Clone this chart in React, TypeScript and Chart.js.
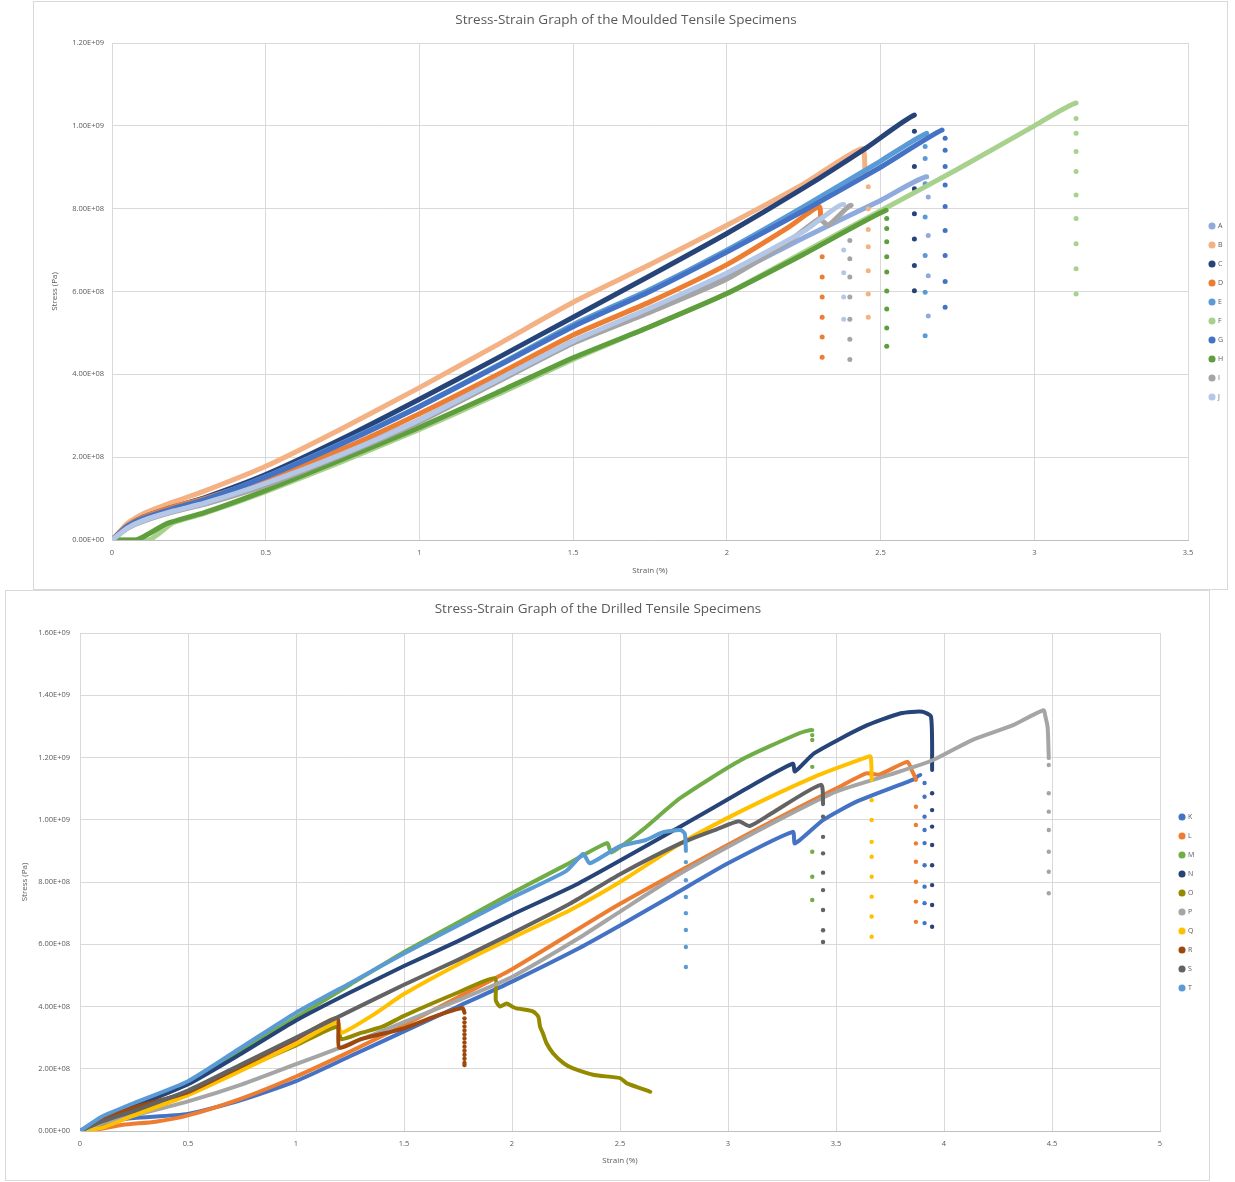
import React, { useEffect, useRef } from 'react';
import { Chart, registerables } from 'chart.js';

Chart.register(...registerables);

type Pt = [number, number];

// ---------------- Moulded specimens (top chart) ----------------
const mouldedTitle = 'Stress-Strain Graph of the Moulded Tensile Specimens';
const mouldedNames = ['A', 'B', 'C', 'D', 'E', 'F', 'G', 'H', 'I', 'J'];
const mouldedColors = ['#8FAADC', '#F4B183', '#264478', '#ED7D31', '#5B9BD5', '#A9D18E', '#4472C4', '#5E9E3C', '#A5A5A5', '#B4C7E7'];
const mouldedXTicks = [0, 0.5, 1, 1.5, 2, 2.5, 3, 3.5];
const mouldedYTicks = [0, 2e8, 4e8, 6e8, 8e8, 1e9, 1.2e9];

const curveA: Pt[] = [[0, 0], [0.05, 0.3e8], [0.1, 0.5e8], [0.2, 0.72e8], [0.3, 0.92e8], [0.5, 1.42e8], [0.75, 2.1e8], [1.0, 2.9e8], [1.25, 3.85e8], [1.5, 4.8e8], [1.75, 5.55e8], [2.0, 6.35e8], [2.25, 7.3e8], [2.5, 8.2e8], [2.65, 8.77e8]];
const dropA: Pt[] = [[2.655, 8.28e8], [2.655, 7.35e8], [2.655, 6.38e8], [2.655, 5.41e8]];
const curveB: Pt[] = [[0, 0], [0.05, 0.4e8], [0.1, 0.63e8], [0.2, 0.92e8], [0.3, 1.18e8], [0.5, 1.78e8], [0.75, 2.7e8], [1.0, 3.68e8], [1.25, 4.7e8], [1.5, 5.74e8], [1.75, 6.65e8], [2.0, 7.6e8], [2.25, 8.6e8], [2.44, 9.45e8], [2.45, 8.8e8]];
const dropB: Pt[] = [[2.46, 8.53e8], [2.46, 8.0e8], [2.46, 7.5e8], [2.46, 7.08e8], [2.46, 6.5e8], [2.46, 5.94e8], [2.46, 5.38e8]];
const curveC: Pt[] = [[0, 0], [0.05, 0.34e8], [0.1, 0.55e8], [0.2, 0.8e8], [0.3, 1.02e8], [0.5, 1.58e8], [0.75, 2.45e8], [1.0, 3.4e8], [1.25, 4.38e8], [1.5, 5.38e8], [1.75, 6.38e8], [2.0, 7.4e8], [2.25, 8.5e8], [2.45, 9.45e8], [2.61, 10.26e8]];
const dropC: Pt[] = [[2.61, 9.87e8], [2.61, 9.02e8], [2.61, 8.48e8], [2.61, 7.88e8], [2.61, 7.27e8], [2.61, 6.63e8], [2.61, 6.02e8]];
const curveD: Pt[] = [[0, 0], [0.05, 0.35e8], [0.1, 0.55e8], [0.2, 0.8e8], [0.3, 1.0e8], [0.5, 1.48e8], [0.75, 2.2e8], [1.0, 3.05e8], [1.25, 3.98e8], [1.5, 4.95e8], [1.75, 5.75e8], [2.0, 6.65e8], [2.2, 7.55e8], [2.3, 8.05e8], [2.305, 7.72e8]];
const dropD: Pt[] = [[2.31, 6.84e8], [2.31, 6.35e8], [2.31, 5.87e8], [2.31, 5.38e8], [2.31, 4.9e8], [2.31, 4.41e8]];
const curveE: Pt[] = [[0, 0], [0.05, 0.33e8], [0.1, 0.52e8], [0.2, 0.76e8], [0.3, 0.97e8], [0.5, 1.53e8], [0.75, 2.35e8], [1.0, 3.23e8], [1.25, 4.2e8], [1.5, 5.2e8], [1.75, 6.05e8], [2.0, 7.0e8], [2.25, 8.05e8], [2.5, 9.15e8], [2.65, 9.82e8]];
const dropE: Pt[] = [[2.645, 9.5e8], [2.645, 9.21e8], [2.645, 8.6e8], [2.645, 7.8e8], [2.645, 6.87e8], [2.645, 5.98e8], [2.645, 4.93e8]];
const curveF: Pt[] = [[0, 0], [0.12, 0], [0.2, 0.42e8], [0.3, 0.64e8], [0.5, 1.17e8], [0.75, 1.9e8], [1.0, 2.67e8], [1.25, 3.5e8], [1.5, 4.36e8], [1.75, 5.15e8], [2.0, 5.95e8], [2.25, 6.95e8], [2.5, 7.95e8], [2.75, 8.95e8], [3.0, 10.0e8], [3.136, 10.55e8]];
const dropF: Pt[] = [[3.136, 10.18e8], [3.136, 9.82e8], [3.136, 9.38e8], [3.136, 8.9e8], [3.136, 8.33e8], [3.136, 7.76e8], [3.136, 7.15e8], [3.136, 6.55e8], [3.136, 5.94e8]];
const curveG: Pt[] = [[0, 0], [0.05, 0.33e8], [0.1, 0.52e8], [0.2, 0.76e8], [0.3, 0.97e8], [0.5, 1.52e8], [0.75, 2.33e8], [1.0, 3.22e8], [1.25, 4.18e8], [1.5, 5.15e8], [1.75, 6.0e8], [2.0, 6.95e8], [2.25, 7.95e8], [2.5, 9.0e8], [2.7, 9.9e8]];
const dropG: Pt[] = [[2.71, 9.7e8], [2.71, 9.41e8], [2.71, 9.02e8], [2.71, 8.57e8], [2.71, 8.05e8], [2.71, 7.47e8], [2.71, 6.87e8], [2.71, 6.24e8], [2.71, 5.62e8]];
const curveH: Pt[] = [[0, 0], [0.08, 0], [0.18, 0.4e8], [0.3, 0.66e8], [0.5, 1.2e8], [0.75, 1.95e8], [1.0, 2.72e8], [1.25, 3.55e8], [1.5, 4.4e8], [1.75, 5.15e8], [2.0, 5.95e8], [2.25, 6.9e8], [2.518, 7.96e8]];
const dropH: Pt[] = [[2.52, 7.76e8], [2.52, 7.52e8], [2.52, 7.2e8], [2.52, 6.84e8], [2.52, 6.47e8], [2.52, 6.01e8], [2.52, 5.58e8], [2.52, 5.12e8], [2.52, 4.68e8]];
const curveI: Pt[] = [[0, 0], [0.05, 0.28e8], [0.1, 0.45e8], [0.2, 0.68e8], [0.3, 0.86e8], [0.5, 1.32e8], [0.75, 2.05e8], [1.0, 2.85e8], [1.25, 3.8e8], [1.5, 4.75e8], [1.75, 5.5e8], [2.0, 6.3e8], [2.2, 7.2e8], [2.3, 7.75e8], [2.33, 7.6e8], [2.404, 8.08e8]];
const dropI: Pt[] = [[2.4, 7.23e8], [2.4, 6.79e8], [2.4, 6.35e8], [2.4, 5.87e8], [2.4, 5.33e8], [2.4, 4.85e8], [2.4, 4.36e8]];
const curveJ: Pt[] = [[0, 0], [0.05, 0.29e8], [0.1, 0.47e8], [0.2, 0.7e8], [0.3, 0.89e8], [0.5, 1.37e8], [0.75, 2.08e8], [1.0, 2.9e8], [1.25, 3.85e8], [1.5, 4.8e8], [1.75, 5.6e8], [2.0, 6.45e8], [2.25, 7.45e8], [2.38, 8.1e8]];
const dropJ: Pt[] = [[2.38, 7.0e8], [2.38, 6.45e8], [2.38, 5.87e8], [2.38, 5.33e8]];

const mouldedCurves = [curveA, curveB, curveC, curveD, curveE, curveF, curveG, curveH, curveI, curveJ];
const mouldedDrops = [dropA, dropB, dropC, dropD, dropE, dropF, dropG, dropH, dropI, dropJ];

// ---------------- Drilled specimens (bottom chart) ----------------
const drilledTitle = 'Stress-Strain Graph of the Drilled Tensile Specimens';
const drilledNames = ['K', 'L', 'M', 'N', 'O', 'P', 'Q', 'R', 'S', 'T'];
const drilledColors = ['#4472C4', '#ED7D31', '#70AD47', '#264478', '#948A00', '#A5A5A5', '#FFC000', '#9E480E', '#636363', '#5B9BD5'];
const drilledXTicks = [0, 0.5, 1, 1.5, 2, 2.5, 3, 3.5, 4, 4.5, 5];
const drilledYTicks = [0, 2e8, 4e8, 6e8, 8e8, 1e9, 1.2e9, 1.4e9, 1.6e9];

const curveK: Pt[] = [[0, 0], [0.1, 0.28e8], [0.25, 0.42e8], [0.5, 0.55e8], [0.75, 1.0e8], [1.0, 1.6e8], [1.25, 2.4e8], [1.5, 3.2e8], [1.75, 4.0e8], [2.0, 4.8e8], [2.31, 5.87e8], [2.5, 6.6e8], [2.75, 7.6e8], [3.0, 8.6e8], [3.3, 9.61e8], [3.31, 9.24e8], [3.44, 9.99e8], [3.6, 10.6e8], [3.86, 11.3e8], [3.89, 11.44e8]];
const dropK: Pt[] = [[3.91, 11.18e8], [3.91, 10.74e8], [3.91, 10.1e8], [3.91, 9.67e8], [3.91, 9.25e8], [3.91, 8.54e8], [3.91, 7.85e8], [3.91, 7.32e8], [3.91, 6.68e8]];
const curveL: Pt[] = [[0, 0], [0.08, 0.05e8], [0.2, 0.2e8], [0.35, 0.3e8], [0.5, 0.5e8], [0.75, 1.05e8], [1.0, 1.75e8], [1.25, 2.55e8], [1.5, 3.4e8], [1.75, 4.3e8], [2.0, 5.2e8], [2.5, 7.3e8], [3.0, 9.2e8], [3.3, 10.3e8], [3.5, 11.0e8], [3.64, 11.49e8], [3.7, 11.45e8], [3.83, 11.86e8], [3.85, 11.6e8], [3.87, 11.28e8]];
const dropL: Pt[] = [[3.87, 10.42e8], [3.87, 9.83e8], [3.87, 9.24e8], [3.87, 8.65e8], [3.87, 8.01e8], [3.87, 7.37e8], [3.87, 6.72e8]];
const curveM: Pt[] = [[0, 0], [0.1, 0.4e8], [0.25, 0.8e8], [0.5, 1.55e8], [0.75, 2.6e8], [1.0, 3.65e8], [1.25, 4.7e8], [1.5, 5.75e8], [1.75, 6.7e8], [2.0, 7.65e8], [2.25, 8.55e8], [2.44, 9.25e8], [2.46, 8.95e8], [2.6, 9.65e8], [2.78, 10.7e8], [3.06, 11.92e8], [3.33, 12.78e8], [3.39, 12.88e8]];
const dropM: Pt[] = [[3.39, 12.72e8], [3.39, 12.56e8], [3.39, 11.7e8], [3.39, 8.97e8], [3.39, 8.17e8], [3.39, 7.42e8]];
const curveN: Pt[] = [[0, 0], [0.1, 0.38e8], [0.25, 0.78e8], [0.5, 1.5e8], [0.75, 2.5e8], [1.0, 3.55e8], [1.25, 4.45e8], [1.5, 5.3e8], [1.75, 6.1e8], [2.0, 6.95e8], [2.31, 7.96e8], [2.78, 9.78e8], [3.06, 10.9e8], [3.3, 11.8e8], [3.31, 11.55e8], [3.4, 12.14e8], [3.63, 12.99e8], [3.8, 13.42e8], [3.9, 13.47e8], [3.94, 13.31e8], [3.945, 11.6e8]];
const dropN: Pt[] = [[3.945, 10.85e8], [3.945, 10.31e8], [3.945, 9.78e8], [3.945, 9.19e8], [3.945, 8.54e8], [3.945, 7.9e8], [3.945, 7.26e8], [3.945, 6.56e8]];
const curveO: Pt[] = [[0, 0], [0.1, 0.2e8], [0.25, 0.55e8], [0.5, 1.25e8], [0.75, 2.0e8], [1.0, 2.75e8], [1.19, 3.35e8], [1.21, 2.95e8], [1.3, 3.15e8], [1.4, 3.35e8], [1.5, 3.7e8], [1.75, 4.45e8], [1.92, 4.91e8], [1.925, 4.2e8], [1.944, 4.0e8], [1.975, 4.1e8], [2.0, 4.0e8], [2.02, 3.94e8], [2.07, 3.89e8], [2.1, 3.83e8], [2.122, 3.67e8], [2.13, 3.35e8], [2.143, 3.14e8], [2.16, 2.82e8], [2.19, 2.5e8], [2.24, 2.17e8], [2.28, 2.02e8], [2.38, 1.8e8], [2.5, 1.7e8], [2.53, 1.54e8], [2.64, 1.26e8]];
const dropO: Pt[] = [];
const curveP: Pt[] = [[0, 0], [0.1, 0.25e8], [0.25, 0.5e8], [0.5, 0.95e8], [0.75, 1.5e8], [1.0, 2.15e8], [1.25, 2.8e8], [1.5, 3.5e8], [1.75, 4.2e8], [2.0, 4.95e8], [2.31, 6.2e8], [2.5, 7.05e8], [2.75, 8.15e8], [3.0, 9.13e8], [3.25, 10.05e8], [3.5, 10.9e8], [3.75, 11.45e8], [3.95, 11.92e8], [4.13, 12.56e8], [4.32, 13.04e8], [4.46, 13.52e8], [4.47, 13.3e8], [4.48, 12.95e8], [4.485, 11.98e8]];
const dropP: Pt[] = [[4.485, 11.76e8], [4.485, 10.85e8], [4.485, 10.26e8], [4.485, 9.67e8], [4.485, 8.97e8], [4.485, 8.33e8], [4.485, 7.64e8]];
const curveQ: Pt[] = [[0, 0], [0.1, 0.1e8], [0.25, 0.5e8], [0.5, 1.15e8], [0.75, 1.95e8], [1.0, 2.8e8], [1.19, 3.5e8], [1.21, 3.15e8], [1.35, 3.7e8], [1.5, 4.4e8], [1.75, 5.35e8], [2.0, 6.2e8], [2.27, 7.1e8], [2.5, 8.0e8], [2.78, 9.24e8], [3.07, 10.31e8], [3.4, 11.38e8], [3.63, 11.98e8], [3.66, 12.03e8], [3.665, 11.28e8]];
const dropQ: Pt[] = [[3.665, 10.63e8], [3.665, 9.99e8], [3.665, 9.29e8], [3.665, 8.81e8], [3.665, 8.17e8], [3.665, 7.53e8], [3.665, 6.89e8], [3.665, 6.24e8]];
const curveR: Pt[] = [[0, 0], [0.1, 0.35e8], [0.25, 0.75e8], [0.5, 1.25e8], [0.75, 2.1e8], [1.0, 2.95e8], [1.19, 3.63e8], [1.2, 2.68e8], [1.3, 2.95e8], [1.5, 3.3e8], [1.65, 3.7e8], [1.77, 3.95e8], [1.78, 3.8e8]];
const dropR: Pt[] = [[1.78, 3.62e8], [1.78, 3.49e8], [1.78, 3.36e8], [1.78, 3.23e8], [1.78, 3.1e8], [1.78, 2.97e8], [1.78, 2.84e8], [1.78, 2.71e8], [1.78, 2.58e8], [1.78, 2.45e8], [1.78, 2.32e8], [1.78, 2.19e8], [1.78, 2.12e8]];
const curveS: Pt[] = [[0, 0], [0.1, 0.3e8], [0.25, 0.65e8], [0.5, 1.3e8], [0.75, 2.15e8], [1.0, 3.0e8], [1.25, 3.85e8], [1.5, 4.7e8], [1.75, 5.5e8], [2.0, 6.35e8], [2.27, 7.31e8], [2.5, 8.25e8], [2.78, 9.24e8], [2.95, 9.7e8], [3.05, 9.95e8], [3.1, 9.8e8], [3.2, 10.2e8], [3.43, 11.12e8], [3.44, 10.5e8]];
const dropS: Pt[] = [[3.44, 10.1e8], [3.44, 9.45e8], [3.44, 8.92e8], [3.44, 8.3e8], [3.44, 7.74e8], [3.44, 7.1e8], [3.44, 6.45e8], [3.44, 6.07e8]];
const curveT: Pt[] = [[0, 0], [0.1, 0.46e8], [0.25, 0.9e8], [0.5, 1.6e8], [0.75, 2.7e8], [1.0, 3.8e8], [1.25, 4.75e8], [1.5, 5.7e8], [1.75, 6.6e8], [2.0, 7.5e8], [2.25, 8.35e8], [2.33, 8.9e8], [2.36, 8.6e8], [2.5, 9.15e8], [2.62, 9.35e8], [2.7, 9.6e8], [2.78, 9.67e8], [2.8, 9.55e8], [2.805, 9.0e8]];
const dropT: Pt[] = [[2.805, 8.64e8], [2.805, 8.06e8], [2.805, 7.52e8], [2.805, 7.0e8], [2.805, 6.46e8], [2.805, 5.91e8], [2.805, 5.27e8]];

const drilledCurves = [curveK, curveL, curveM, curveN, curveO, curveP, curveQ, curveR, curveS, curveT];
const drilledDrops = [dropK, dropL, dropM, dropN, dropO, dropP, dropQ, dropR, dropS, dropT];

// ---------------- helpers ----------------
const FONT = "'Open Sans', 'Liberation Sans', sans-serif";
const TEXT = '#595959';
const GRID = '#d9d9d9';

function sci(v: number): string {
  if (v === 0) return '0.00E+00';
  const e = Math.floor(Math.log10(Math.abs(v)) + 1e-9);
  const m = v / Math.pow(10, e);
  return m.toFixed(2) + 'E' + (e < 0 ? '-' : '+') + String(Math.abs(e)).padStart(2, '0');
}

const legendShift = {
  id: 'legendShift',
  afterLayout(chart: any, _args: any, opts: any) {
    const lg = chart.legend;
    if (!lg) return;
    lg.left += opts.dx || 0;
    lg.right += opts.dx || 0;
    lg.top += opts.dy || 0;
    lg.bottom += opts.dy || 0;
  },
};

interface Spec {
  title: string;
  names: string[];
  colors: string[];
  curves: Pt[][];
  drops: Pt[][];
  xTicks: number[];
  yTicks: number[];
  lineWidth: number;
  dotRadius: number;
  yAxisWidth: number;
  xAxisHeight: number;
  padRight: number;
  titlePadBottom: number;
  yTickPad: number;
  yTitlePad: number;
  xTitlePad: number;
  legendDx: number;
  legendDy: number;
}

function buildConfig(s: Spec): any {
  const total = s.names.length;
  const datasets = s.names.map((name, i) => {
    const curve = s.curves[i];
    const n = curve.length;
    const pts = curve.concat(s.drops[i]).map(([x, y]) => ({ x, y }));
    const color = s.colors[i];
    return {
      label: name,
      data: pts,
      order: total - i,
      showLine: true,
      borderColor: color,
      backgroundColor: color,
      borderWidth: s.lineWidth,
      borderJoinStyle: 'round',
      borderCapStyle: 'round',
      tension: 0.2,
      pointStyle: 'circle',
      pointBorderWidth: 0,
      pointRadius: (ctx: any) => (ctx.dataIndex >= n ? s.dotRadius : 0),
      pointHoverRadius: 0,
      pointHitRadius: 0,
      segment: {
        borderColor: (ctx: any) => (ctx.p1DataIndex >= n ? 'rgba(0,0,0,0)' : undefined),
      },
    };
  });
  const xMin = s.xTicks[0];
  const xMax = s.xTicks[s.xTicks.length - 1];
  const yMin = s.yTicks[0];
  const yMax = s.yTicks[s.yTicks.length - 1];
  return {
    type: 'scatter',
    data: { datasets },
    plugins: [legendShift],
    options: {
      animation: false,
      responsive: true,
      maintainAspectRatio: false,
      events: [],
      layout: { padding: { left: 0, right: s.padRight, top: 0, bottom: 0 } },
      plugins: {
        title: {
          display: true,
          text: s.title,
          color: TEXT,
          font: { family: FONT, size: 13.5, weight: 'normal' },
          padding: { top: 10.5, bottom: s.titlePadBottom },
        },
        legend: {
          position: 'right',
          align: 'center',
          maxWidth: 30,
          labels: {
            usePointStyle: true,
            pointStyle: 'circle',
            boxWidth: 5,
            boxHeight: 5,
            padding: 12,
            color: TEXT,
            font: { family: FONT, size: 7 },
            sort: (a: any, b: any) => a.datasetIndex - b.datasetIndex,
          },
        },
        tooltip: { enabled: false },
        legendShift: { dx: s.legendDx, dy: s.legendDy },
      },
      scales: {
        x: {
          type: 'linear',
          min: xMin,
          max: xMax,
          afterBuildTicks: (scale: any) => {
            scale.ticks = s.xTicks.map((v) => ({ value: v }));
          },
          ticks: {
            color: TEXT,
            font: { family: FONT, size: 7.5 },
            padding: 8,
            maxRotation: 0,
            autoSkip: false,
            callback: (v: any) => String(Math.round(Number(v) * 10) / 10),
          },
          grid: { color: GRID, lineWidth: 1, drawTicks: false },
          border: { color: '#bfbfbf' },
          title: {
            display: true,
            text: 'Strain (%)',
            color: TEXT,
            font: { family: FONT, size: 8 },
            padding: { top: 0, bottom: s.xTitlePad },
          },
          afterFit: (scale: any) => {
            scale.height = s.xAxisHeight;
          },
        },
        y: {
          type: 'linear',
          min: yMin,
          max: yMax,
          afterBuildTicks: (scale: any) => {
            scale.ticks = s.yTicks.map((v) => ({ value: v }));
          },
          ticks: {
            color: TEXT,
            font: { family: FONT, size: 7.5 },
            padding: s.yTickPad,
            autoSkip: false,
            callback: (v: any) => sci(Number(v)),
          },
          grid: { color: GRID, lineWidth: 1, drawTicks: false },
          border: { color: GRID },
          title: {
            display: true,
            text: 'Stress (Pa)',
            color: TEXT,
            font: { family: FONT, size: 8 },
            padding: { top: s.yTitlePad, bottom: 0 },
          },
          afterFit: (scale: any) => {
            scale.width = s.yAxisWidth;
          },
        },
      },
    },
  };
}

const mouldedSpec: Spec = {
  title: mouldedTitle,
  names: mouldedNames,
  colors: mouldedColors,
  curves: mouldedCurves,
  drops: mouldedDrops,
  xTicks: mouldedXTicks,
  yTicks: mouldedYTicks,
  lineWidth: 5,
  dotRadius: 2.5,
  yAxisWidth: 78,
  xAxisHeight: 49,
  padRight: 9,
  titlePadBottom: 14.3,
  yTickPad: 8,
  yTitlePad: 16,
  xTitlePad: 13,
  legendDx: 9.5,
  legendDy: 16,
};

const drilledSpec: Spec = {
  title: drilledTitle,
  names: drilledNames,
  colors: drilledColors,
  curves: drilledCurves,
  drops: drilledDrops,
  xTicks: drilledXTicks,
  yTicks: drilledYTicks,
  lineWidth: 4,
  dotRadius: 2.2,
  yAxisWidth: 74,
  xAxisHeight: 49,
  padRight: 19,
  titlePadBottom: 15.3,
  yTickPad: 10,
  yTitlePad: 14,
  xTitlePad: 14,
  legendDx: 7.5,
  legendDy: 17,
};

function StressChart({ spec }: { spec: Spec }) {
  const ref = useRef<HTMLCanvasElement | null>(null);
  useEffect(() => {
    if (!ref.current) return;
    const chart = new Chart(ref.current, buildConfig(spec));
    return () => chart.destroy();
  }, [spec]);
  return (
    <div style={{ position: 'relative', width: '100%', height: '100%' }}>
      <canvas ref={ref} />
    </div>
  );
}

export default function App() {
  const box: React.CSSProperties = {
    position: 'absolute',
    boxSizing: 'border-box',
    border: '1px solid #d9d9d9',
    background: '#ffffff',
  };
  return (
    <div style={{ position: 'absolute', left: 0, top: 0, width: 1235, height: 1182, background: '#ffffff' }}>
      <div style={{ ...box, left: 33, top: 1, width: 1195, height: 589 }}>
        <StressChart spec={mouldedSpec} />
      </div>
      <div style={{ ...box, left: 5, top: 590, width: 1205, height: 591 }}>
        <StressChart spec={drilledSpec} />
      </div>
    </div>
  );
}
